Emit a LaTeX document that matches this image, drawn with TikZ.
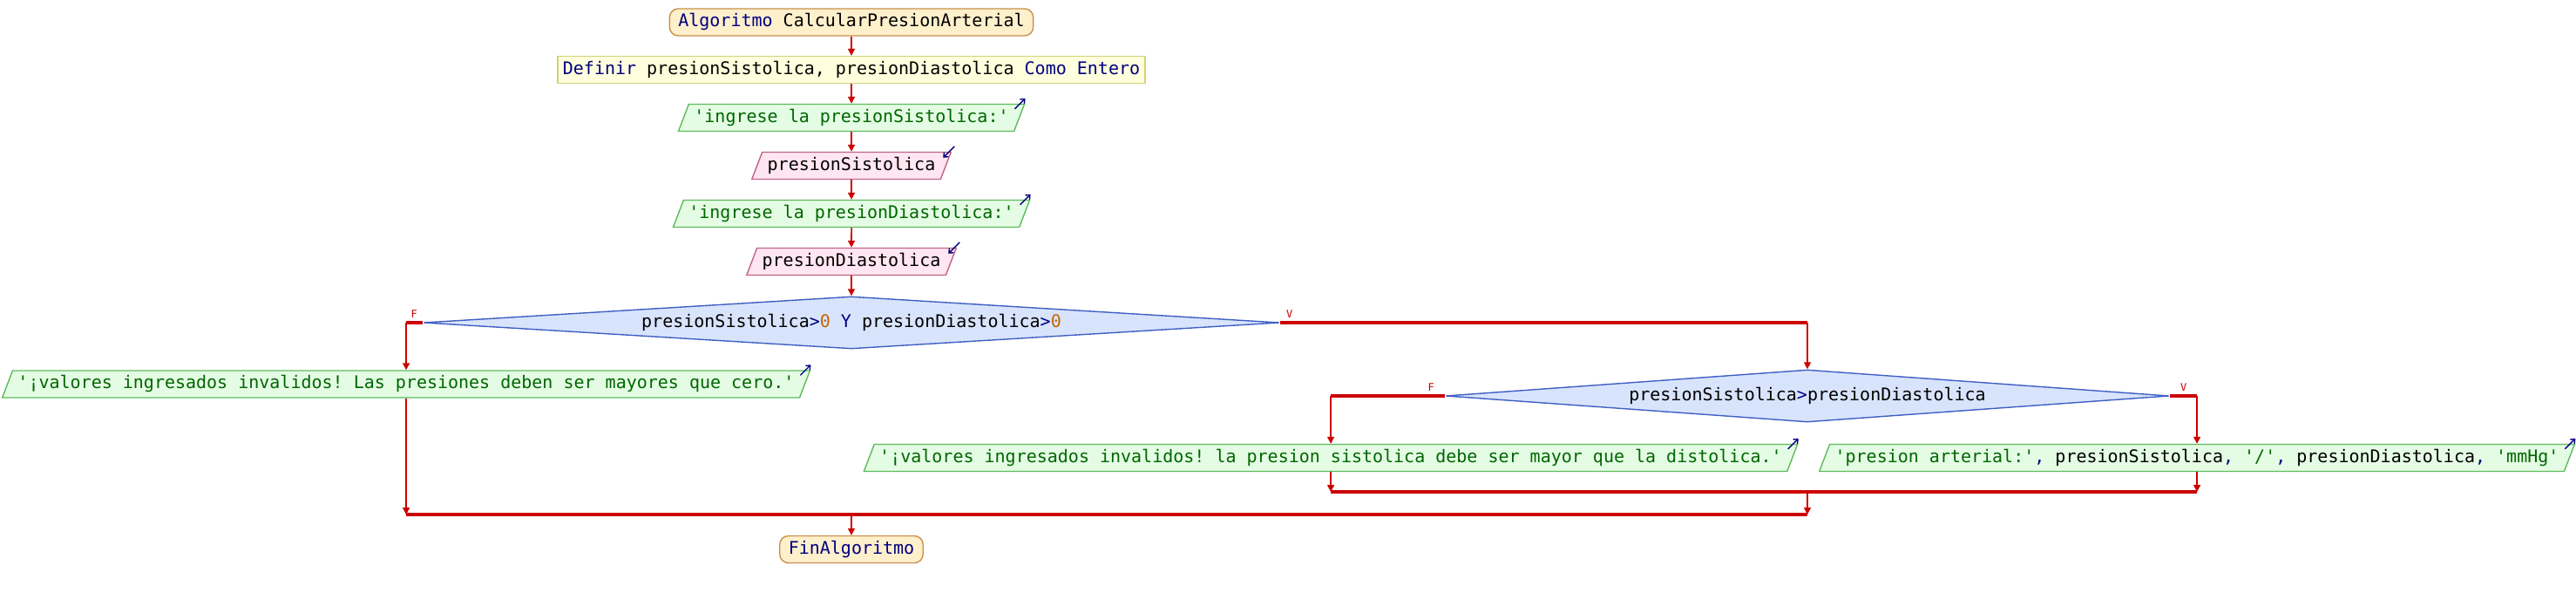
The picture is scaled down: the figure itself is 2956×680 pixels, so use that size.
\documentclass[tikz,border=0pt]{standalone}
\usepackage{fontspec}
\setmonofont{DejaVu Sans Mono}
\usetikzlibrary{arrows.meta, positioning, calc, shapes.geometric}

\definecolor{psred}{HTML}{CC0000}
\definecolor{psnavy}{HTML}{000080}
\definecolor{psgreen}{HTML}{006600}
\definecolor{psnum}{HTML}{C86400}
\definecolor{inifill}{HTML}{FFF0CC}
\definecolor{inidraw}{HTML}{C8904A}
\definecolor{deffill}{HTML}{FFFFDD}
\definecolor{defdraw}{HTML}{D2D27A}
\definecolor{outfill}{HTML}{E4FCE4}
\definecolor{outdraw}{HTML}{5DBB5D}
\definecolor{rdfill}{HTML}{FFE6F0}
\definecolor{rddraw}{HTML}{C0648A}
\definecolor{decfill}{HTML}{D8E4FC}
\definecolor{decdraw}{HTML}{3F5FC4}

\newcommand{\kw}[1]{\textcolor{psnavy}{#1}}
\newcommand{\cad}[1]{\textcolor{psgreen}{#1}}
\newcommand{\pnum}[1]{\textcolor{psnum}{#1}}

\tikzset{
  caja/.style={line width=0.7pt, text height=7.5pt, text depth=2.5pt, inner ysep=2.75pt},
  ini/.style={caja, rectangle, rounded corners=5pt, fill=inifill, draw=inidraw, inner xsep=5pt, text=psnavy},
  defbox/.style={caja, rectangle, fill=deffill, draw=defdraw, inner xsep=3pt},
  para/.style={caja, trapezium, trapezium left angle=69, trapezium right angle=111, inner xsep=3pt},
  outbox/.style={para, fill=outfill, draw=outdraw},
  rdbox/.style={para, fill=rdfill, draw=rddraw},
  dec/.style={diamond, aspect=16, inner sep=0pt, fill=decfill, draw=decdraw, line width=0.7pt, minimum height=30pt},
  flujo/.style={psred, line width=0.8pt, -{Triangle[length=4pt,width=4pt]}},
  rama/.style={psred, line width=1.6pt},
  icono/.style={psnavy, line width=0.7pt, -{Straight Barb[length=2pt,width=3.5pt]}},
  etq/.style={psred, font=\ttfamily\fontsize{6}{6}\selectfont, inner sep=0.5pt}
}

\begin{document}
\begin{tikzpicture}[x=0.5pt, y=-0.5pt]
        \ttfamily{}
        \useasboundingbox (0,0) rectangle (2956,680);
        % Secuencia principal
        \node[ini] (fl_ini) at (977,25.5) {Algoritmo \textcolor{black}{CalcularPresionArterial}};
        \node[defbox] (fl_def) at (977,80) {\kw{Definir} presionSistolica, presionDiastolica \kw{Como Entero}};
        \node[outbox] (fl_out1) at (977,135) {\cad{'ingrese la presionSistolica:'}};
        \node[rdbox] (fl_rd1) at (977,190) {presionSistolica};
        \node[outbox] (fl_out2) at (977,245) {\cad{'ingrese la presionDiastolica:'}};
        \node[rdbox] (fl_rd2) at (977,300) {presionDiastolica};
        \draw[flujo] (fl_ini) -- (fl_def);
        \draw[flujo] (fl_def) -- (fl_out1);
        \draw[flujo] (fl_out1) -- (fl_rd1);
        \draw[flujo] (fl_rd1) -- (fl_out2);
        \draw[flujo] (fl_out2) -- (fl_rd2);
        % Primera decision
        \node[dec, minimum width=491pt] (fl_dec1) at (977,370) {presionSistolica\kw{>}\pnum{0} \kw{Y} presionDiastolica\kw{>}\pnum{0}};
        \draw[flujo] (fl_rd2) -- (fl_dec1);
        \node[outbox] (fl_outL) at (466,440.5) {\cad{'¡valores ingresados invalidos! Las presiones deben ser mayores que cero.'}};
        \draw[rama] (fl_dec1.west) -- (fl_dec1.west -| fl_outL.north);
        \draw[flujo] (fl_dec1.west -| fl_outL.north) -- (fl_outL.north);
        \node[etq, anchor=south east] at ([xshift=-2.5pt, yshift=2pt]fl_dec1.west) {F};
        % Segunda decision
        \node[dec, minimum width=415pt] (fl_dec2) at (2074,454) {presionSistolica\kw{>}presionDiastolica};
        \draw[rama] (fl_dec1.east) -- (fl_dec1.east -| fl_dec2.north);
        \draw[flujo] (fl_dec1.east -| fl_dec2.north) -- (fl_dec2.north);
        \node[etq, anchor=south west] at ([xshift=3pt, yshift=2pt]fl_dec1.east) {V};
        \node[outbox] (fl_outM) at (1527,525) {\cad{'¡valores ingresados invalidos! la presion sistolica debe ser mayor que la distolica.'}};
        \node[outbox] (fl_outR) at (2521,525) {\cad{'presion arterial:'}\kw{,} presionSistolica\kw{,} \cad{'/'}\kw{,} presionDiastolica\kw{,} \cad{'mmHg'}};
        \draw[rama] (fl_dec2.west) -- (fl_dec2.west -| fl_outM.north);
        \draw[flujo] (fl_dec2.west -| fl_outM.north) -- (fl_outM.north);
        \draw[rama] (fl_dec2.east) -- (fl_dec2.east -| fl_outR.north);
        \draw[flujo] (fl_dec2.east -| fl_outR.north) -- (fl_outR.north);
        \node[etq, anchor=south east] at ([xshift=-5.5pt, yshift=2pt]fl_dec2.west) {F};
        \node[etq, anchor=south west] at ([xshift=5.5pt, yshift=2pt]fl_dec2.east) {V};
        % Uniones y fin
        \coordinate (fl_j2) at (2074,564);
        \coordinate (fl_j1) at (977,590);
        \node[ini] (fl_fin) at (977,630) {FinAlgoritmo};
        \draw[flujo] (fl_outM.south) -- (fl_outM.south |- fl_j2);
        \draw[flujo] (fl_outR.south) -- (fl_outR.south |- fl_j2);
        \draw[rama] (fl_outM.south |- fl_j2) -- (fl_outR.south |- fl_j2);
        \draw[flujo] (fl_j2) -- (fl_j2 |- fl_j1);
        \draw[flujo] (fl_outL.south) -- (fl_outL.south |- fl_j1);
        \draw[rama] (fl_outL.south |- fl_j1) -- (fl_j2 |- fl_j1);
        \draw[flujo] (fl_j1) -- (fl_fin);
        % Iconos de entrada/salida
        \draw[icono] ([shift={(-12,6)}]fl_out1.top right corner) -- ([shift={(0,-6)}]fl_out1.top right corner);
        \draw[icono] ([shift={(-12,6)}]fl_out2.top right corner) -- ([shift={(0,-6)}]fl_out2.top right corner);
        \draw[icono] ([shift={(-12,6)}]fl_outL.top right corner) -- ([shift={(0,-6)}]fl_outL.top right corner);
        \draw[icono] ([shift={(-12,6)}]fl_outM.top right corner) -- ([shift={(0,-6)}]fl_outM.top right corner);
        \draw[icono] ([shift={(-12,6)}]fl_outR.top right corner) -- ([shift={(0,-6)}]fl_outR.top right corner);
        \draw[icono] ([shift={(3,-6)}]fl_rd1.top right corner) -- ([shift={(-10,7)}]fl_rd1.top right corner);
        \draw[icono] ([shift={(3,-6)}]fl_rd2.top right corner) -- ([shift={(-10,7)}]fl_rd2.top right corner);
\end{tikzpicture}
\end{document}
